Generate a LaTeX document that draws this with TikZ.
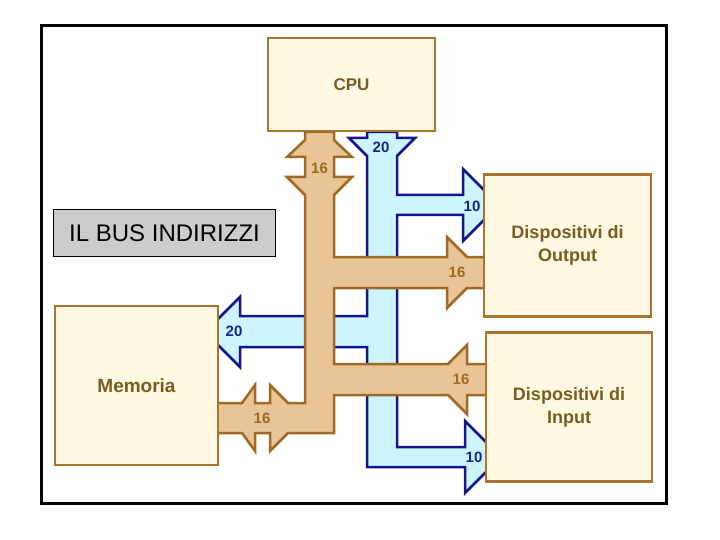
\documentclass[tikz,border=0pt]{standalone}
\usepackage{fontspec}
\setmainfont{Liberation Sans}
\definecolor{boxfill}{HTML}{FFF8E2}
\definecolor{boxline}{HTML}{A8742E}
\definecolor{brownfill}{HTML}{E8C496}
\definecolor{brownline}{HTML}{9E6A26}
\definecolor{bluefill}{HTML}{CCF5FF}
\definecolor{blueline}{HTML}{14148C}
\definecolor{boxtext}{HTML}{7A5C20}
\definecolor{browntext}{HTML}{9A6A22}
\definecolor{bluetext}{HTML}{0A2A8A}
\definecolor{tagfill}{HTML}{CCCCCC}
\tikzset{
  unitbox/.style={draw=boxline, fill=boxfill, line width=2.5pt, inner sep=0pt,
    text=boxtext, font=\fontsize{18}{23}\selectfont\bfseries, align=center},
  brownbus/.style={draw=brownline, fill=brownfill, line width=2.5pt},
  bluebus/.style={draw=blueline, fill=bluefill, line width=2.5pt},
  brownlabel/.style={text=browntext, font=\fontsize{15}{15}\selectfont\bfseries, inner sep=0pt},
  bluelabel/.style={text=bluetext, font=\fontsize{15}{15}\selectfont\bfseries, inner sep=0pt},
}
\begin{document}
\begin{tikzpicture}[x=1pt, y=-1pt]
\useasboundingbox (0,0) rectangle (720,540);
\fill[white] (0,0) rectangle (720,540);
% address bus (blue)
\draw[bluebus] (367,132) -- (397,132) -- (397,138) -- (415,138) -- (397,156) -- (397,195)
  -- (463,195) -- (463,169) -- (499,205) -- (463,241) -- (463,215) -- (397,215)
  -- (397,447) -- (465,447) -- (465,421) -- (501,457) -- (465,493) -- (465,467)
  -- (367,467) -- (367,347) -- (240,347) -- (240,367) -- (205,332) -- (240,297)
  -- (240,316) -- (367,316) -- (367,156) -- (349,138) -- (367,138) -- cycle;
% data bus (brown)
\draw[brownbus] (305,132) -- (334,132) -- (334,140) -- (352,157) -- (334,157) -- (334,177)
  -- (352,177) -- (334,195) -- (334,257) -- (447,257) -- (447,237) -- (467,257)
  -- (490,257) -- (490,288) -- (467,288) -- (447,308) -- (447,288) -- (334,288)
  -- (334,364) -- (448,364) -- (467,345) -- (467,364) -- (492,364) -- (492,395)
  -- (467,395) -- (467,414) -- (448,395) -- (334,395) -- (334,433) -- (288,433)
  -- (270,451) -- (270,433) -- (255,433) -- (255,451) -- (242,433) -- (214,433)
  -- (214,403) -- (242,403) -- (255,385) -- (255,403) -- (270,403) -- (270,385)
  -- (288,403) -- (305,403) -- (305,195) -- (287,177) -- (305,177) -- (305,157)
  -- (287,157) -- (305,140) -- cycle;
% units
\node[unitbox, minimum width=167pt, minimum height=93pt, font=\fontsize{17}{23}\selectfont\bfseries] (cpu) at (351.5,84.5) {CPU};
\node[unitbox, minimum width=163pt, minimum height=159pt, font=\fontsize{19}{23}\selectfont\bfseries] (mem) at (136.5,385.5) {Memoria};
\node[unitbox, minimum width=167pt, minimum height=142pt] (out) at (567.5,245.5) {Dispositivi di\\Output};
\node[unitbox, minimum width=166pt, minimum height=149pt] (inp) at (569,407) {Dispositivi di\\Input};
% bus widths
\node[brownlabel] (l1) at (319.5,168) {16};
\node[bluelabel] (l2) at (381,147) {20};
\node[bluelabel] (l3) at (472,206) {10};
\node[brownlabel] (l4) at (457,272) {16};
\node[bluelabel] (l5) at (234,331) {20};
\node[brownlabel] (l6) at (461,379) {16};
\node[brownlabel] (l7) at (262,418) {16};
\node[bluelabel] (l8) at (474,457) {10};
% caption
\node[draw=black, fill=tagfill, line width=1.5pt, minimum width=222pt, minimum height=47pt,
  inner sep=0pt, font=\fontsize{24}{24}\selectfont] (tag) at (164.5,233) {IL BUS INDIRIZZI};
% frame
\draw[line width=3pt] (41.5,26) rectangle (666,503);
\end{tikzpicture}
\end{document}
